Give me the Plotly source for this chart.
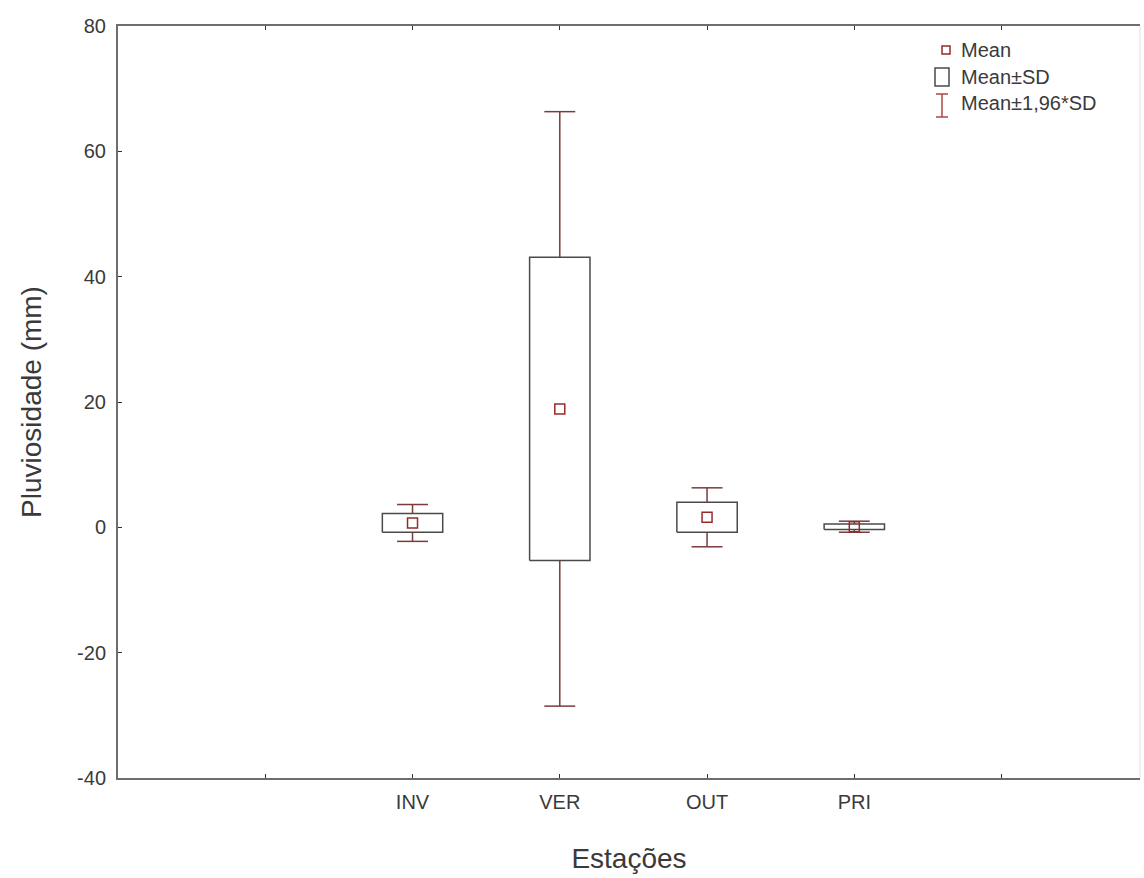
import plotly.graph_objects as go

# Rainfall by season: mean and standard deviation
seasons = ["INV", "VER", "OUT", "PRI"]
season_pos = [2, 3, 4, 5]
means = [0.7, 18.9, 1.6, 0.1]
sds = [1.5, 24.2, 2.4, 0.45]

x_tickvals = [1, 2, 3, 4, 5, 6]
x_ticktext = ["", "INV", "VER", "OUT", "PRI", ""]
y_tickvals = [-40, -20, 0, 20, 40, 60, 80]
y_ticktext = ["-40", "-20", "0", "20", "40", "60", "80"]

BOX_HALF = 0.205
CAP_HALF = 0.105
Z = 1.96

BOX_COLOR = "#4a4a4a"
WHISK_COLOR = "#7a3b3b"
MEAN_COLOR = "#9a2a2a"
TEXT_COLOR = "#3a3a3a"
FONT = "Liberation Sans, Arial, sans-serif"

# whiskers (mean ± 1.96*SD) with caps
wx, wy = [], []
for p, m, s in zip(season_pos, means, sds):
    lo, hi = m - Z * s, m + Z * s
    wx += [p, p, None, p - CAP_HALF, p + CAP_HALF, None, p - CAP_HALF, p + CAP_HALF, None]
    wy += [lo, hi, None, hi, hi, None, lo, lo, None]

# boxes (mean ± SD)
bx, by = [], []
for p, m, s in zip(season_pos, means, sds):
    lo, hi = m - s, m + s
    bx += [p - BOX_HALF, p + BOX_HALF, p + BOX_HALF, p - BOX_HALF, p - BOX_HALF, None]
    by += [lo, lo, hi, hi, lo, None]

fig = go.Figure()
fig.add_trace(go.Scatter(x=wx, y=wy, mode="lines",
                         line=dict(color=WHISK_COLOR, width=1.5),
                         showlegend=False, hoverinfo="skip"))
fig.add_trace(go.Scatter(x=bx, y=by, mode="lines", fill="toself", fillcolor="white",
                         line=dict(color=BOX_COLOR, width=1.5),
                         showlegend=False, hoverinfo="skip"))
fig.add_trace(go.Scatter(x=season_pos, y=means, mode="markers",
                         marker=dict(symbol="square-open", size=10,
                                     color=MEAN_COLOR, line=dict(width=1.5)),
                         showlegend=False, text=seasons))

X0, X1 = 118, 1140
Y0, Y1 = 26, 778


def px(x):
    return (x - X0) / (X1 - X0)


def py(y):
    return (Y1 - y) / (Y1 - Y0)


shapes = [
    # faint right frame
    dict(type="line", xref="paper", yref="paper", x0=1, x1=1, y0=0, y1=1,
         line=dict(color="#e2e2e2", width=1)),
    # legend symbols
    dict(type="rect", xref="paper", yref="paper",
         x0=px(942), x1=px(950), y0=py(54), y1=py(46),
         line=dict(color=MEAN_COLOR, width=1.5)),
    dict(type="rect", xref="paper", yref="paper",
         x0=px(935), x1=px(949), y0=py(86), y1=py(68),
         line=dict(color=BOX_COLOR, width=1.5)),
    dict(type="line", xref="paper", yref="paper",
         x0=px(942), x1=px(942), y0=py(117), y1=py(94),
         line=dict(color="#b04545", width=1.5)),
    dict(type="line", xref="paper", yref="paper",
         x0=px(936), x1=px(948), y0=py(94), y1=py(94),
         line=dict(color="#b04545", width=1.5)),
    dict(type="line", xref="paper", yref="paper",
         x0=px(936), x1=px(948), y0=py(117), y1=py(117),
         line=dict(color="#b04545", width=1.5)),
]

annotations = []
for label, yy in [("Mean", 50), ("Mean±SD", 77), ("Mean±1,96*SD", 103)]:
    annotations.append(dict(text=label, xref="paper", yref="paper",
                            x=px(959), y=py(yy), xanchor="left", yanchor="middle",
                            showarrow=False,
                            font=dict(family=FONT, size=20, color=TEXT_COLOR)))

fig.update_layout(
    width=1144, height=878,
    margin=dict(l=X0, r=1144 - X1, t=Y0, b=878 - Y1),
    paper_bgcolor="white", plot_bgcolor="white",
    font=dict(family=FONT, color=TEXT_COLOR),
    showlegend=False,
    shapes=shapes,
    annotations=annotations,
    xaxis=dict(range=[0, 6.94], tickvals=x_tickvals, ticktext=x_ticktext,
               showgrid=False, zeroline=False,
               showline=True, linecolor="#6e6e6e", linewidth=2, mirror="ticks",
               ticks="inside", ticklen=4, tickcolor="#333333",
               ticklabelstandoff=5,
               tickfont=dict(family=FONT, size=20, color=TEXT_COLOR),
               title=dict(text="Estações", standoff=36,
                          font=dict(family=FONT, size=28, color=TEXT_COLOR))),
    yaxis=dict(range=[-40, 80], tickvals=y_tickvals, ticktext=y_ticktext,
               showgrid=False, zeroline=False,
               showline=True, linecolor="#6e6e6e", linewidth=2,
               ticks="inside", ticklen=4, tickcolor="#333333",
               ticklabelstandoff=6,
               tickfont=dict(family=FONT, size=20, color=TEXT_COLOR),
               title=dict(text="Pluviosidade (mm)", standoff=27,
                          font=dict(family=FONT, size=28, color=TEXT_COLOR))),
)

fig.write_html("out.html")
